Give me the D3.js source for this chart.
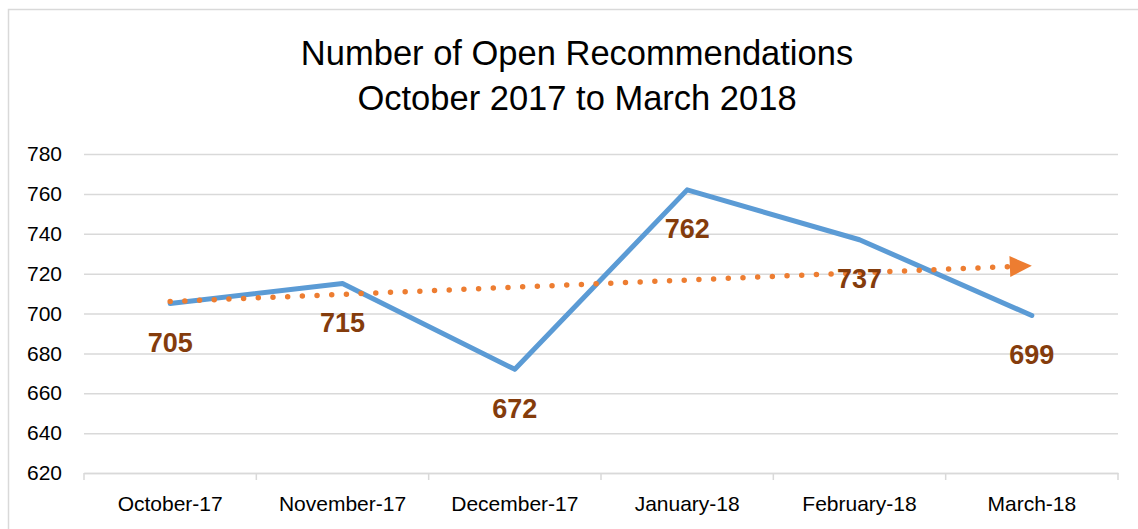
<!DOCTYPE html>
<html>
<head>
<meta charset="utf-8">
<script src="https://cdn.jsdelivr.net/npm/d3@7"></script>
<style>
  body { margin: 0; background: #fff; }
  svg text { font-family: "Liberation Sans", Arial, sans-serif; }
</style>
</head>
<body>
<div id="chart"></div>
<script>
// data
var months = ['October-17', 'November-17', 'December-17', 'January-18', 'February-18', 'March-18'];
var openRecs = [705, 715, 672, 762, 737, 699];
var yTicks = [620, 640, 660, 680, 700, 720, 740, 760, 780];
var titleLines = ['Number of Open Recommendations', 'October 2017 to March 2018'];

var W = 1138, H = 529;
var plotLeft = 84, plotRight = 1118, plotTop = 154, plotBottom = 473;
var labelDrop = 48.5; // data labels sit below the points

var svg = d3.select('#chart').append('svg')
    .attr('width', W).attr('height', H)
    .style('display', 'block');

// chart frame
svg.append('rect')
    .attr('x', 8.5).attr('y', 9.5)
    .attr('width', W + 10).attr('height', H + 10)
    .attr('fill', '#fff').attr('stroke', '#d9d9d9').attr('stroke-width', 1.5);

// title
svg.append('g').selectAll('text')
    .data(titleLines)
    .enter().append('text')
    .attr('x', 577)
    .attr('y', function(d, i){ return 65 + i * 45; })
    .attr('text-anchor', 'middle')
    .attr('font-size', 34.5)
    .attr('fill', '#000')
    .text(function(d){ return d; });

var x = d3.scaleBand().domain(months).range([plotLeft, plotRight]);
var y = d3.scaleLinear().domain([620, 780]).range([plotBottom, plotTop]);

// gridlines + y labels
var yAxis = d3.axisLeft(y).tickValues(yTicks).tickSize(-(plotRight - plotLeft)).tickPadding(22);
var gy = svg.append('g').attr('transform', 'translate(' + plotLeft + ',0)').call(yAxis);
gy.select('.domain').remove();
gy.selectAll('.tick line').attr('stroke', '#d9d9d9').attr('stroke-width', 1.5);
gy.selectAll('.tick text').attr('font-size', 21).attr('fill', '#000')
    .attr('font-family', '"Liberation Sans", Arial, sans-serif');

// x axis with band ticks
var xAxis = d3.axisBottom(x).tickSize(0).tickPadding(23);
var gx = svg.append('g').attr('transform', 'translate(0,' + plotBottom + ')').call(xAxis);
gx.select('.domain').attr('stroke', '#d9d9d9').attr('stroke-width', 1.5);
gx.selectAll('.tick text').attr('font-size', 21).attr('fill', '#000')
    .attr('font-family', '"Liberation Sans", Arial, sans-serif');
var edges = months.map(function(m){ return x(m); }).concat([plotRight]);
gx.selectAll('.bandtick').data(edges).enter().append('line')
    .attr('x1', function(d){ return d; }).attr('x2', function(d){ return d; })
    .attr('y1', 0).attr('y2', 7)
    .attr('stroke', '#d9d9d9').attr('stroke-width', 1.5);

var cx = function(i){ return x(months[i]) + x.bandwidth() / 2; };

// main line
var line = d3.line()
    .x(function(d, i){ return cx(i); })
    .y(function(d){ return y(d); });
svg.append('path')
    .datum(openRecs)
    .attr('d', line)
    .attr('fill', 'none')
    .attr('stroke', '#5b9bd5')
    .attr('stroke-width', 5)
    .attr('stroke-linejoin', 'round')
    .attr('stroke-linecap', 'round');

// linear trendline (least squares over the series)
var n = openRecs.length;
var mx = d3.mean(d3.range(n)), my = d3.mean(openRecs);
var sxy = d3.sum(openRecs, function(v, i){ return (i - mx) * (v - my); });
var sxx = d3.sum(d3.range(n), function(i){ return (i - mx) * (i - mx); });
var slope = sxy / sxx, icpt = my - slope * mx;
var t0 = [cx(0), y(icpt)], t1 = [cx(n - 1), y(icpt + slope * (n - 1))];
var ang = Math.atan2(t1[1] - t0[1], t1[0] - t0[0]);
var headLen = 22, headHalf = 10.5;
var base = [t1[0] - headLen * Math.cos(ang), t1[1] - headLen * Math.sin(ang)];

svg.append('line')
    .attr('x1', t0[0]).attr('y1', t0[1])
    .attr('x2', base[0]).attr('y2', base[1])
    .attr('stroke', '#ed7d31')
    .attr('stroke-width', 5.5)
    .attr('stroke-linecap', 'round')
    .attr('stroke-dasharray', '0 14.7');

svg.append('path')
    .attr('d', 'M' + t1[0] + ',' + t1[1] +
        'L' + (base[0] - headHalf * Math.sin(ang)) + ',' + (base[1] + headHalf * Math.cos(ang)) +
        'L' + (base[0] + headHalf * Math.sin(ang)) + ',' + (base[1] - headHalf * Math.cos(ang)) + 'Z')
    .attr('fill', '#ed7d31');

// data labels
svg.append('g').selectAll('text')
    .data(openRecs)
    .enter().append('text')
    .attr('x', function(d, i){ return cx(i); })
    .attr('y', function(d){ return y(d) + labelDrop; })
    .attr('text-anchor', 'middle')
    .attr('font-size', 27)
    .attr('font-weight', 'bold')
    .attr('fill', '#843c0c')
    .text(function(d){ return d; });
</script>
</body>
</html>
